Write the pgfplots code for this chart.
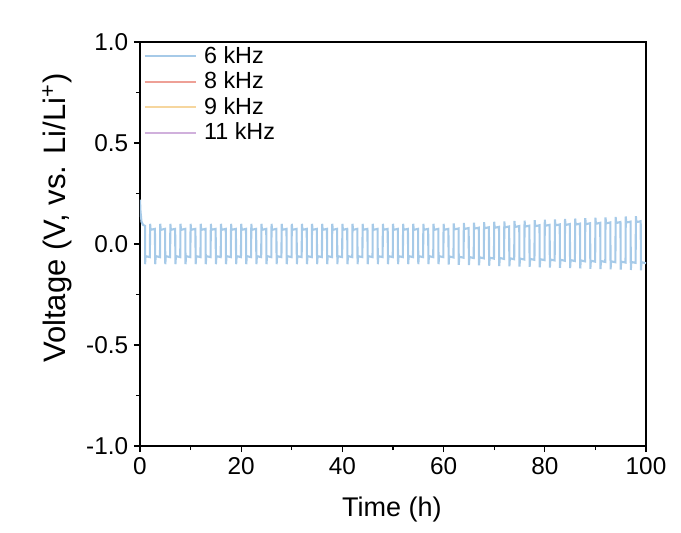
\documentclass[border=0pt]{standalone}
\usepackage{fontspec}
\setmainfont{Liberation Sans}
\usepackage{pgfplots}
\pgfplotsset{compat=1.18}
\definecolor{cBlue}{RGB}{166,202,232}
\definecolor{cPink}{RGB}{238,160,150}
\definecolor{cYel}{RGB}{246,214,158}
\definecolor{cPur}{RGB}{208,176,220}
\begin{document}
\begin{tikzpicture}
\useasboundingbox (-84pt,-51.6pt) rectangle (324.6pt,267.6pt);
\begin{axis}[
  at={(0,0)}, anchor=south west,
  scale only axis, width=303.6pt, height=242.4pt,
  xmin=0, xmax=100, ymin=-1, ymax=1,
  xtick={0,20,...,100}, ytick={-1,-0.5,0,0.5,1},
  minor x tick num=1, minor y tick num=1,
  tick pos=left, tick align=outside,
  major tick length=3.6pt, minor tick length=2.4pt,
  every tick/.style={black, line width=0.8pt},
  axis line style={black, line width=0.8pt},
  /pgf/number format/assume math mode=true,
  yticklabel style={/pgf/number format/.cd, fixed, fixed zerofill, precision=1},
  ticklabel style={font=\fontsize{14.6}{17}\selectfont},
  xlabel={Time (h)},
  ylabel={Voltage (V, vs. Li/Li\textsuperscript{+})},
  xlabel style={font=\fontsize{16.2}{19}\selectfont, at={(axis description cs:0.498,-0.156)}, anchor=center},
  ylabel style={font=\fontsize{18.6}{22}\selectfont, at={(axis description cs:-0.164,0.564)}, anchor=center},
  legend cell align=left,
  legend style={draw=none, fill=none, at={(0,1)}, anchor=north west, xshift=1pt, yshift=0.6pt,
    font=\fontsize{14}{16}\selectfont, row sep=-0.3pt, inner xsep=1pt, inner ysep=1pt,
    nodes={inner xsep=4pt}},
  legend image code/.code={\draw[#1] (-1pt,0pt) -- (30pt,0pt);},
]
\addplot[cBlue, line width=1.25pt] coordinates {
(0,0.22)(0.1,0.16)(0.3,0.11)(0.6,0.095)(1.0,0.09)
(1,-0.10)(1.1,-0.06)(1.95,-0.065)(2,0.10)(2.1,0.07)(2.95,0.075)
(3,-0.10)(3.1,-0.06)(3.95,-0.065)(4,0.10)(4.1,0.07)(4.95,0.075)
(5,-0.10)(5.1,-0.06)(5.95,-0.065)(6,0.10)(6.1,0.07)(6.95,0.075)
(7,-0.10)(7.1,-0.06)(7.95,-0.065)(8,0.10)(8.1,0.07)(8.95,0.075)
(9,-0.10)(9.1,-0.06)(9.95,-0.065)(10,0.10)(10.1,0.07)(10.95,0.075)
(11,-0.10)(11.1,-0.06)(11.95,-0.065)(12,0.10)(12.1,0.07)(12.95,0.075)
(13,-0.10)(13.1,-0.06)(13.95,-0.065)(14,0.10)(14.1,0.07)(14.95,0.075)
(15,-0.10)(15.1,-0.06)(15.95,-0.065)(16,0.10)(16.1,0.07)(16.95,0.075)
(17,-0.10)(17.1,-0.06)(17.95,-0.065)(18,0.10)(18.1,0.07)(18.95,0.075)
(19,-0.10)(19.1,-0.06)(19.95,-0.065)(20,0.10)(20.1,0.07)(20.95,0.075)
(21,-0.10)(21.1,-0.06)(21.95,-0.065)(22,0.10)(22.1,0.07)(22.95,0.075)
(23,-0.10)(23.1,-0.06)(23.95,-0.065)(24,0.10)(24.1,0.07)(24.95,0.075)
(25,-0.10)(25.1,-0.06)(25.95,-0.065)(26,0.10)(26.1,0.07)(26.95,0.075)
(27,-0.10)(27.1,-0.06)(27.95,-0.065)(28,0.10)(28.1,0.07)(28.95,0.075)
(29,-0.10)(29.1,-0.06)(29.95,-0.065)(30,0.10)(30.1,0.07)(30.95,0.075)
(31,-0.10)(31.1,-0.06)(31.95,-0.065)(32,0.10)(32.1,0.07)(32.95,0.075)
(33,-0.10)(33.1,-0.06)(33.95,-0.065)(34,0.10)(34.1,0.07)(34.95,0.075)
(35,-0.10)(35.1,-0.06)(35.95,-0.065)(36,0.10)(36.1,0.07)(36.95,0.075)
(37,-0.10)(37.1,-0.06)(37.95,-0.065)(38,0.10)(38.1,0.07)(38.95,0.075)
(39,-0.10)(39.1,-0.06)(39.95,-0.065)(40,0.10)(40.1,0.07)(40.95,0.075)
(41,-0.10)(41.1,-0.06)(41.95,-0.065)(42,0.10)(42.1,0.07)(42.95,0.075)
(43,-0.10)(43.1,-0.06)(43.95,-0.065)(44,0.10)(44.1,0.07)(44.95,0.075)
(45,-0.10)(45.1,-0.06)(45.95,-0.065)(46,0.10)(46.1,0.07)(46.95,0.075)
(47,-0.10)(47.1,-0.06)(47.95,-0.065)(48,0.10)(48.1,0.07)(48.95,0.075)
(49,-0.10)(49.1,-0.06)(49.95,-0.065)(50,0.10)(50.1,0.07)(50.95,0.075)
(51,-0.10)(51.1,-0.06)(51.95,-0.065)(52,0.10)(52.1,0.07)(52.95,0.075)
(53,-0.10)(53.1,-0.06)(53.95,-0.065)(54,0.10)(54.1,0.07)(54.95,0.075)
(55,-0.10)(55.1,-0.06)(55.95,-0.065)(56,0.10)(56.1,0.07)(56.95,0.075)
(57,-0.10)(57.1,-0.06)(57.95,-0.065)(58,0.10)(58.1,0.07)(58.95,0.075)
(59,-0.10)(59.1,-0.06)(59.95,-0.065)(60,0.10)(60.1,0.07)(60.95,0.075)
(61,-0.1015)(61.1,-0.0615)(61.95,-0.0665)(62,0.102)(62.1,0.072)(62.95,0.077)
(63,-0.103)(63.1,-0.063)(63.95,-0.068)(64,0.104)(64.1,0.074)(64.95,0.079)
(65,-0.1045)(65.1,-0.0645)(65.95,-0.0695)(66,0.106)(66.1,0.076)(66.95,0.081)
(67,-0.106)(67.1,-0.066)(67.95,-0.071)(68,0.108)(68.1,0.078)(68.95,0.083)
(69,-0.1075)(69.1,-0.0675)(69.95,-0.0725)(70,0.110)(70.1,0.080)(70.95,0.085)
(71,-0.109)(71.1,-0.069)(71.95,-0.074)(72,0.112)(72.1,0.082)(72.95,0.087)
(73,-0.1105)(73.1,-0.0705)(73.95,-0.0755)(74,0.114)(74.1,0.084)(74.95,0.089)
(75,-0.112)(75.1,-0.072)(75.95,-0.077)(76,0.116)(76.1,0.086)(76.95,0.091)
(77,-0.1135)(77.1,-0.0735)(77.95,-0.0785)(78,0.118)(78.1,0.088)(78.95,0.093)
(79,-0.115)(79.1,-0.075)(79.95,-0.080)(80,0.120)(80.1,0.090)(80.95,0.095)
(81,-0.1165)(81.1,-0.0765)(81.95,-0.0815)(82,0.122)(82.1,0.092)(82.95,0.097)
(83,-0.118)(83.1,-0.078)(83.95,-0.083)(84,0.124)(84.1,0.094)(84.95,0.099)
(85,-0.1195)(85.1,-0.0795)(85.95,-0.0845)(86,0.126)(86.1,0.096)(86.95,0.101)
(87,-0.121)(87.1,-0.081)(87.95,-0.086)(88,0.128)(88.1,0.098)(88.95,0.103)
(89,-0.1225)(89.1,-0.0825)(89.95,-0.0875)(90,0.130)(90.1,0.100)(90.95,0.105)
(91,-0.124)(91.1,-0.084)(91.95,-0.089)(92,0.132)(92.1,0.102)(92.95,0.107)
(93,-0.1255)(93.1,-0.0855)(93.95,-0.0905)(94,0.134)(94.1,0.104)(94.95,0.109)
(95,-0.127)(95.1,-0.087)(95.95,-0.092)(96,0.136)(96.1,0.106)(96.95,0.111)
(97,-0.1285)(97.1,-0.0885)(97.95,-0.0935)(98,0.138)(98.1,0.108)(98.95,0.113)
(99,-0.130)(99.1,-0.090)(100,-0.095)
};
\addlegendentry{6 kHz}
\addlegendimage{cPink, line width=1.25pt}
\addlegendentry{8 kHz}
\addlegendimage{cYel, line width=1.25pt}
\addlegendentry{9 kHz}
\addlegendimage{cPur, line width=1.25pt}
\addlegendentry{11 kHz}
\end{axis}
\end{tikzpicture}
\end{document}
